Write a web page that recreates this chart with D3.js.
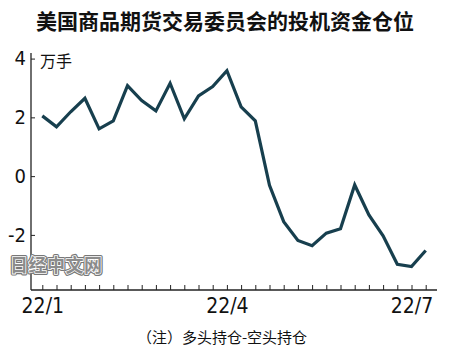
<!DOCTYPE html>
<html><head><meta charset="utf-8">
<script src="https://cdn.jsdelivr.net/npm/d3@7"></script>
<style>
html,body{margin:0;padding:0;background:#fff;}
svg{display:block;}
</style></head>
<body>
<svg id="c" width="450" height="357"></svg>
<script>
// Weekly data (Tuesdays), Jan 4 2022 -> Jul 12 2022, unit: 万手
const weeks = ["2022-01-04","2022-01-11","2022-01-18","2022-01-25","2022-02-01","2022-02-08","2022-02-15","2022-02-22","2022-03-01","2022-03-08","2022-03-15","2022-03-22","2022-03-29","2022-04-05","2022-04-12","2022-04-19","2022-04-26","2022-05-03","2022-05-10","2022-05-17","2022-05-24","2022-05-31","2022-06-07","2022-06-14","2022-06-21","2022-06-28","2022-07-05","2022-07-12"];
const values = [2.05,1.68,2.19,2.65,1.61,1.88,3.08,2.57,2.22,3.16,1.95,2.73,3.05,3.59,2.36,1.88,-0.31,-1.55,-2.19,-2.37,-1.94,-1.79,-0.30,-1.32,-2.03,-3.0,-3.08,-2.53];
const yTicks = [4,2,0,-2];
const xLabelIdx = [0,13,26];
const xLabels = ["22/1","22/4","22/7"];
const title = "美国商品期货交易委员会的投机资金仓位";
const unitLabel = "万手";
const note = "（注）多头持仓-空头持仓";
const watermark = "日经中文网";

const svg = d3.select("#c");
const cjk = "'Noto Sans CJK SC','Noto Sans',sans-serif";
const narrow = "'Liberation Sans Narrow','DejaVu Sans Condensed',sans-serif";
const lineColor = "#173f4e";

const x = d3.scaleLinear().domain([0, weeks.length-1]).range([42.3, 425.7]);
const y = d3.scaleLinear().domain([-3.875, 4.19]).range([290, 53]);

// title
svg.append("text").attr("x",225).attr("y",20).attr("text-anchor","middle")
  .attr("dominant-baseline","central").attr("font-family",cjk).attr("font-weight","bold")
  .attr("font-size",21).attr("fill","#111").text(title);

// y axis
const gy = svg.append("g").attr("transform","translate(31,0)")
  .call(d3.axisLeft(y).tickValues(yTicks).tickSize(-4).tickPadding(5).tickFormat(d=>String(d)));
gy.select(".domain").remove();
gy.selectAll(".tick line").attr("stroke","#222").attr("stroke-width",1);
gy.selectAll(".tick text").attr("font-family",narrow).attr("font-size",20).attr("fill","#111");
svg.append("line").attr("x1",31).attr("x2",31).attr("y1",y.range()[1]).attr("y2",y.range()[0])
  .attr("stroke","#222").attr("stroke-width",1.3);

// x axis
const gx = svg.append("g").attr("transform","translate(0,290)")
  .call(d3.axisBottom(x).tickValues(d3.range(weeks.length)).tickSize(-5).tickPadding(8)
    .tickFormat(i => { const k = xLabelIdx.indexOf(i); return k>=0 ? xLabels[k] : ""; }));
gx.select(".domain").remove();
gx.selectAll(".tick line").attr("stroke","#222").attr("stroke-width",1);
gx.selectAll(".tick text").attr("font-family",narrow).attr("font-size",21).attr("fill","#111");
svg.append("line").attr("x1",31).attr("x2",437).attr("y1",290).attr("y2",290)
  .attr("stroke","#222").attr("stroke-width",1.3);

// unit
svg.append("text").attr("x",40).attr("y",60).attr("dominant-baseline","central")
  .attr("font-family",cjk).attr("font-size",16).attr("fill","#111").text(unitLabel);

// line
svg.append("path").datum(values)
  .attr("d", d3.line().x((d,i)=>x(i)).y(d=>y(d)))
  .attr("fill","none").attr("stroke",lineColor).attr("stroke-width",3.2)
  .attr("stroke-linejoin","miter");

// watermark
const wm = svg.append("g");
wm.append("text").attr("x",10).attr("y",263.5).attr("dominant-baseline","central")
  .attr("font-family",cjk).attr("font-weight","bold").attr("font-size",18)
  .attr("fill","none").attr("stroke","#777").attr("stroke-width",4).attr("stroke-linejoin","round")
  .attr("letter-spacing",0.5).text(watermark);
wm.append("text").attr("x",10).attr("y",263.5).attr("dominant-baseline","central")
  .attr("font-family",cjk).attr("font-weight","bold").attr("font-size",18)
  .attr("fill","#8c8c8c").attr("stroke","#fff").attr("stroke-width",1.6).attr("paint-order","stroke")
  .attr("letter-spacing",0.5).text(watermark);

// note
svg.append("text").attr("x",222).attr("y",336.5).attr("text-anchor","middle")
  .attr("dominant-baseline","central").attr("font-family",cjk).attr("font-size",15)
  .attr("fill","#111").text(note);
</script>
</body></html>
